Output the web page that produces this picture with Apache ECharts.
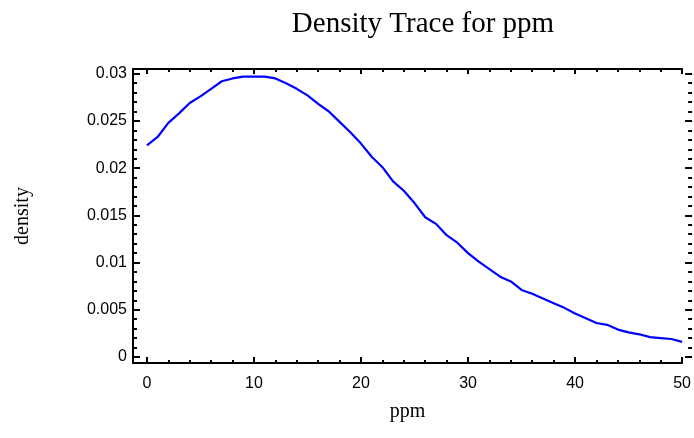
<!DOCTYPE html>
<html>
<head>
<meta charset="utf-8">
<script src="https://cdn.jsdelivr.net/npm/echarts@6/dist/echarts.min.js"></script>
<style>html,body{margin:0;padding:0;background:#fff}#c{width:694px;height:438px}</style>
</head>
<body>
<div id="c"></div>
<script>
const ppm = [0,1,2,3,4,5,6,7,8,9,10,11,12,13,14,15,16,17,18,19,20,21,22,23,24,25,26,27,28,29,30,31,32,33,34,35,36,37,38,39,40,41,42,43,44,45,46,47,48,49,50];
const density = [0.0224,0.0233,0.0248,0.0258,0.0269,0.0276,0.0284,0.0292,0.0295,0.0297,0.0297,0.0297,0.0295,0.0290,0.0284,0.0277,0.0268,0.0260,0.0249,0.0238,0.0226,0.0212,0.0201,0.0186,0.0176,0.0163,0.0148,0.0141,0.0129,0.0121,0.0110,0.0101,0.0093,0.0085,0.0080,0.0071,0.0067,0.0062,0.0057,0.0052,0.0046,0.0041,0.0036,0.0034,0.0029,0.0026,0.0024,0.0021,0.0020,0.0019,0.0016];
const xMajor = [0,10,20,30,40,50];
const xMinor = [2,4,6,8,12,14,16,18,22,24,26,28,32,34,36,38,42,44,46,48];
const yMajor = [0,0.005,0.01,0.015,0.02,0.025,0.03];
const yMinor = [0.001,0.002,0.003,0.004,0.006,0.007,0.008,0.009,0.011,0.012,0.013,0.014,0.016,0.017,0.018,0.019,0.021,0.022,0.023,0.024,0.026,0.027,0.028,0.029,0.030];
const titleText = 'Density Trace for ppm';
const xName = 'ppm';
const yName = 'density';

const X_MIN = -1.3, X_MAX = 50, Y_MIN = -0.00064, Y_MAX = 0.0305;
const sans = 'Liberation Sans, Arial, sans-serif';
const serif = 'Liberation Serif, Times New Roman, serif';

function xAx(pos, values, len, showLine, showLabel, name) {
  return {
    type: 'value', position: pos, min: X_MIN, max: X_MAX,
    name: name || '', nameLocation: 'middle', nameGap: 39,
    nameTextStyle: {fontFamily: serif, fontSize: 20, color: '#000'},
    axisLine: {show: showLine, onZero: false, lineStyle: {color: '#000', width: 2}},
    axisTick: {show: true, inside: true, length: len, customValues: values, lineStyle: {color: '#000', width: 2}},
    axisLabel: {show: showLabel, customValues: values, margin: 13, color: '#000', fontFamily: sans, fontSize: 16},
    splitLine: {show: false}
  };
}
function yAx(pos, values, len, showLine, showLabel, offset, name) {
  return {
    type: 'value', position: pos, min: Y_MIN, max: Y_MAX, offset: offset || 0,
    name: name || '', nameLocation: 'middle', nameGap: 100, nameRotate: 90,
    nameTextStyle: {fontFamily: serif, fontSize: 20, color: '#000'},
    axisLine: {show: showLine, onZero: false, lineStyle: {color: '#000', width: 2}},
    axisTick: {show: true, inside: true, length: len, customValues: values, lineStyle: {color: '#000', width: 2}},
    axisLabel: {show: showLabel, customValues: values, margin: 6, color: '#000', fontFamily: sans, fontSize: 16,
      formatter: v => String(parseFloat(Number(v).toFixed(4)))},
    splitLine: {show: false}
  };
}

const chart = echarts.init(document.getElementById('c'), null, {renderer: 'canvas'});
chart.setOption({
  animation: false,
  backgroundColor: '#fff',
  title: {text: titleText, left: 418, top: 5, textAlign: 'center',
    textStyle: {fontFamily: serif, fontSize: 29, fontWeight: 'normal', color: '#000'}},
  grid: {left: 133, right: 11, top: 69, bottom: 75, containLabel: false},
  xAxis: [
    xAx('bottom', xMajor, 6, true, true, xName),
    xAx('bottom', xMinor, 3, false, false),
    xAx('top', xMajor, 5, true, false),
    xAx('top', xMinor, 3, false, false)
  ],
  yAxis: [
    yAx('left', yMajor, 7, true, true, 0, yName),
    yAx('left', yMinor, 4, false, false),
    yAx('right', yMajor, 7, false, false, 10),
    yAx('right', yMinor, 4, false, false, 10)
  ],
  series: [{
    type: 'line', xAxisIndex: 0, yAxisIndex: 0,
    data: ppm.map((x, i) => [x, density[i]]),
    showSymbol: false, smooth: false,
    lineStyle: {color: '#0000ff', width: 2.2}
  }]
});
</script>
</body>
</html>
